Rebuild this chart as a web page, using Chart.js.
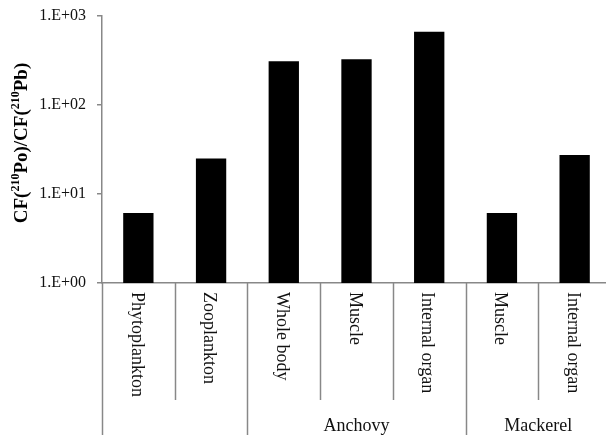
<!DOCTYPE html>
<html>
<head>
<meta charset="utf-8">
<script src="https://cdn.jsdelivr.net/npm/chart.js@4/dist/chart.umd.min.js"></script>
<style>
  html, body { margin: 0; padding: 0; background: #fff; overflow: hidden; }
  #wrap { width: 611px; height: 435px; }
</style>
</head>
<body>
<div id="wrap"><canvas id="chart" width="611" height="435"></canvas></div>
<script>
const categories = ['Phytoplankton', 'Zooplankton', 'Whole body', 'Muscle', 'Internal organ', 'Muscle', 'Internal organ'];
const cfRatio = [6.1, 25, 310, 326, 666, 6.1, 27.4];
const groupNames = ['', 'Anchovy', 'Mackerel'];
const groupSizes = [2, 3, 2];
const yTicks = [1, 10, 100, 1000];

const SERIF = "'Liberation Serif', 'Times New Roman', serif";
const LINE = '#888';

function sciLabel(v) {
  const e = Math.round(Math.log10(v));
  return '1.E+' + String(e).padStart(2, '0');
}

// multi-level category labels below the x axis + y title with superscripts
const groupAxis = {
  id: 'groupAxis',
  afterDraw(chart) {
    const ctx = chart.ctx;
    const x = chart.scales.x;
    const area = chart.chartArea;
    const step = x.getPixelForValue(1) - x.getPixelForValue(0);
    const edge = i => x.getPixelForValue(i) - step / 2;
    const bottom = chart.height;
    ctx.save();

    // separators: long at group boundaries, short inside groups
    const longAt = [0];
    let n = 0;
    groupSizes.forEach(s => { n += s; longAt.push(n); });
    ctx.strokeStyle = LINE;
    ctx.lineWidth = 1.5;
    for (let i = 0; i <= categories.length; i++) {
      const px = Math.round(edge(i)) + 0.5;
      ctx.beginPath();
      ctx.moveTo(px, area.bottom);
      ctx.lineTo(px, longAt.includes(i) ? bottom : 400);
      ctx.stroke();
    }

    // category labels, rotated clockwise
    ctx.fillStyle = '#111';
    ctx.font = '18px ' + SERIF;
    ctx.textAlign = 'left';
    ctx.textBaseline = 'middle';
    categories.forEach((c, i) => {
      ctx.save();
      ctx.translate(x.getPixelForValue(i) - 2, 292);
      ctx.rotate(Math.PI / 2);
      ctx.fillText(c, 0, 0);
      ctx.restore();
    });

    // group labels
    ctx.font = '18px ' + SERIF;
    ctx.textAlign = 'center';
    let start = 0;
    groupNames.forEach((g, k) => {
      const end = start + groupSizes[k];
      if (g) ctx.fillText(g, (edge(start) + edge(end)) / 2, 426);
      start = end;
    });

    // y title: CF(210Po)/CF(210Pb)
    const parts = [
      ['CF(', false], ['210', true], ['Po', false], [')/CF(', false],
      ['210', true], ['Pb', false], [')', false]
    ];
    const big = 'bold 19px ' + SERIF, small = 'bold 12px ' + SERIF;
    let total = 0;
    parts.forEach(([t, sup]) => { ctx.font = sup ? small : big; total += ctx.measureText(t).width; });
    ctx.translate(20, 143);
    ctx.rotate(-Math.PI / 2);
    ctx.textAlign = 'left';
    ctx.textBaseline = 'alphabetic';
    ctx.fillStyle = '#000';
    let cx = -total / 2;
    parts.forEach(([t, sup]) => {
      ctx.font = sup ? small : big;
      ctx.fillText(t, cx, sup ? -1 : 7);
      cx += ctx.measureText(t).width;
    });
    ctx.restore();
  }
};

new Chart(document.getElementById('chart'), {
  type: 'bar',
  data: {
    labels: categories,
    datasets: [{
      data: cfRatio,
      backgroundColor: '#000',
      borderWidth: 0,
      barPercentage: 0.417,
      categoryPercentage: 1
    }]
  },
  options: {
    responsive: false,
    animation: false,
    layout: { padding: { top: 16, right: 0, left: 0, bottom: 0 } },
    plugins: { legend: { display: false }, tooltip: { enabled: false } },
    scales: {
      x: {
        ticks: { display: false },
        grid: { display: false },
        border: { color: LINE, width: 1.5 },
        afterFit: s => { s.height = 152; s.paddingLeft = 0; s.paddingRight = 0; }
      },
      y: {
        type: 'logarithmic',
        min: 1,
        max: 1000,
        afterBuildTicks: s => { s.ticks = yTicks.map(v => ({ value: v })); },
        ticks: {
          callback: v => sciLabel(v),
          font: { family: SERIF, size: 16 },
          color: '#111',
          padding: 11
        },
        grid: { drawOnChartArea: false, drawTicks: true, tickLength: 5, color: LINE, lineWidth: 1.5 },
        border: { color: LINE, width: 1.5 },
        afterFit: s => { s.width = 102; s.paddingTop = 0; s.paddingBottom = 0; }
      }
    }
  },
  plugins: [groupAxis]
});
</script>
</body>
</html>
